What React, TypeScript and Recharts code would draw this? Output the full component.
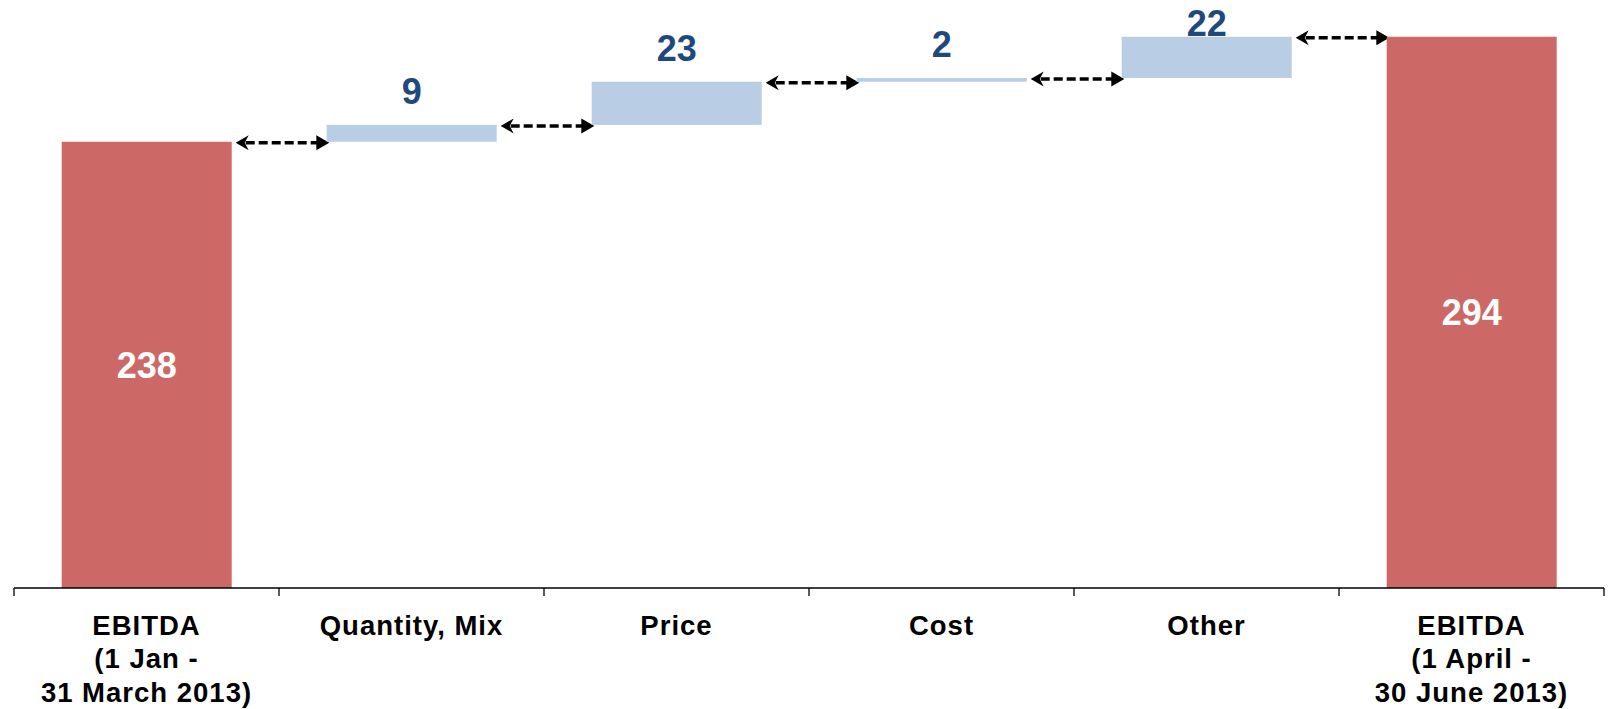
import React from "react";
import { BarChart, Bar, XAxis, YAxis } from "recharts";

const categories = [
  "EBITDA (1 Jan - 31 March 2013)",
  "Quantity, Mix",
  "Price",
  "Cost",
  "Other",
  "EBITDA (1 April - 30 June 2013)",
];
const tickLabels = [
  ["EBITDA", "(1 Jan -", "31 March 2013)"],
  ["Quantity, Mix"],
  ["Price"],
  ["Cost"],
  ["Other"],
  ["EBITDA", "(1 April -", "30 June 2013)"],
];
const values = [238, 9, 23, 2, 22, 294];
const isTotal = [true, false, false, false, false, true];
const yDomain = [0, 300];

const TOTAL_COLOR = "#CC6865";
const DELTA_COLOR = "#B9CDE5";
const LABEL_BLUE = "#1F497D";
const FONT = "'Liberation Sans', Arial, Helvetica, sans-serif";
const GAP_RATIO = 0.18;

const data = (() => {
  let running = 0;
  return categories.map((name, i) => {
    const v = values[i];
    let base = 0;
    if (isTotal[i]) {
      base = 0;
      running = v;
    } else {
      base = running;
      running += v;
    }
    return { name, base, delta: v, idx: i };
  });
})();

const DeltaShape = (props: any) => {
  const { x, y, width, height, index } = props;
  const total = isTotal[index];
  const fill = total ? TOTAL_COLOR : DELTA_COLOR;
  const slotGap = (width * (2 * GAP_RATIO)) / (1 - 2 * GAP_RATIO);
  const hasArrow = index < values.length - 1;
  const ax0 = x + width + 4;
  const ax1 = x + width + slotGap + 2;
  const ay = y + 1;
  const fs = 36;
  const labelY = Math.max(y - 21, fs);
  return (
    <g>
      <rect x={x} y={y} width={width} height={height} fill={fill} />
      {total ? (
        <text
          x={x + width / 2}
          y={y + height / 2}
          dy={fs * 0.36}
          textAnchor="middle"
          fill="#FFFFFF"
          fontFamily={FONT}
          fontWeight="bold"
          fontSize={fs}
        >
          {values[index]}
        </text>
      ) : (
        <text
          x={x + width / 2}
          y={labelY}
          textAnchor="middle"
          fill={LABEL_BLUE}
          fontFamily={FONT}
          fontWeight="bold"
          fontSize={fs}
        >
          {values[index]}
        </text>
      )}
      {hasArrow && (
        <g>
          <line
            x1={ax0 + 10}
            y1={ay}
            x2={ax1 - 12}
            y2={ay}
            stroke="#000"
            strokeWidth={3.5}
            strokeDasharray="9 4"
          />
          <path
            d={`M${ax0},${ay} L${ax0 + 13},${ay - 7.5} L${ax0 + 9},${ay} L${ax0 + 13},${ay + 7.5} Z`}
            fill="#000"
          />
          <path
            d={`M${ax1},${ay} L${ax1 - 13},${ay - 7.5} L${ax1 - 13},${ay + 7.5} Z`}
            fill="#000"
          />
        </g>
      )}
    </g>
  );
};

const CategoryTick = (props: any) => {
  const { x, y, payload, index } = props;
  const i = payload && typeof payload.index === "number" ? payload.index : index;
  const half =
    payload && typeof payload.offset === "number" && payload.offset > 0
      ? payload.offset
      : 1590 / 12;
  const lines = tickLabels[i] || [];
  return (
    <g>
      <line x1={x - half} y1={y} x2={x - half} y2={y + 8} stroke="#000" strokeWidth={1.3} />
      {i === values.length - 1 && (
        <line x1={x + half} y1={y} x2={x + half} y2={y + 8} stroke="#000" strokeWidth={1.3} />
      )}
      <text
        x={x}
        y={y}
        textAnchor="middle"
        fill="#000"
        fontFamily={FONT}
        fontWeight="bold"
        fontSize={27.5}
        letterSpacing={1}
      >
        {lines.map((ln, k) => (
          <tspan key={k} x={x} y={y + 47 + k * 33.3}>
            {ln}
          </tspan>
        ))}
      </text>
    </g>
  );
};

export default function App() {
  return (
    <div style={{ position: "absolute", left: 0, top: 0, width: 1612, height: 709, background: "#fff" }}>
      <BarChart
        width={1612}
        height={709}
        data={data}
        margin={{ top: 25.5, right: 8, left: 14, bottom: 0 }}
        barCategoryGap={`${GAP_RATIO * 100}%`}
      >
        <XAxis
          dataKey="name"
          height={121}
          interval={0}
          tickSize={0}
          tickMargin={0}
          tickLine={false}
          axisLine={{ stroke: "#000", strokeWidth: 1.3 }}
          tick={<CategoryTick />}
        />
        <YAxis hide domain={yDomain} />
        <Bar dataKey="base" stackId="w" fill="transparent" isAnimationActive={false} />
        <Bar dataKey="delta" stackId="w" shape={<DeltaShape />} isAnimationActive={false} />
      </BarChart>
    </div>
  );
}
